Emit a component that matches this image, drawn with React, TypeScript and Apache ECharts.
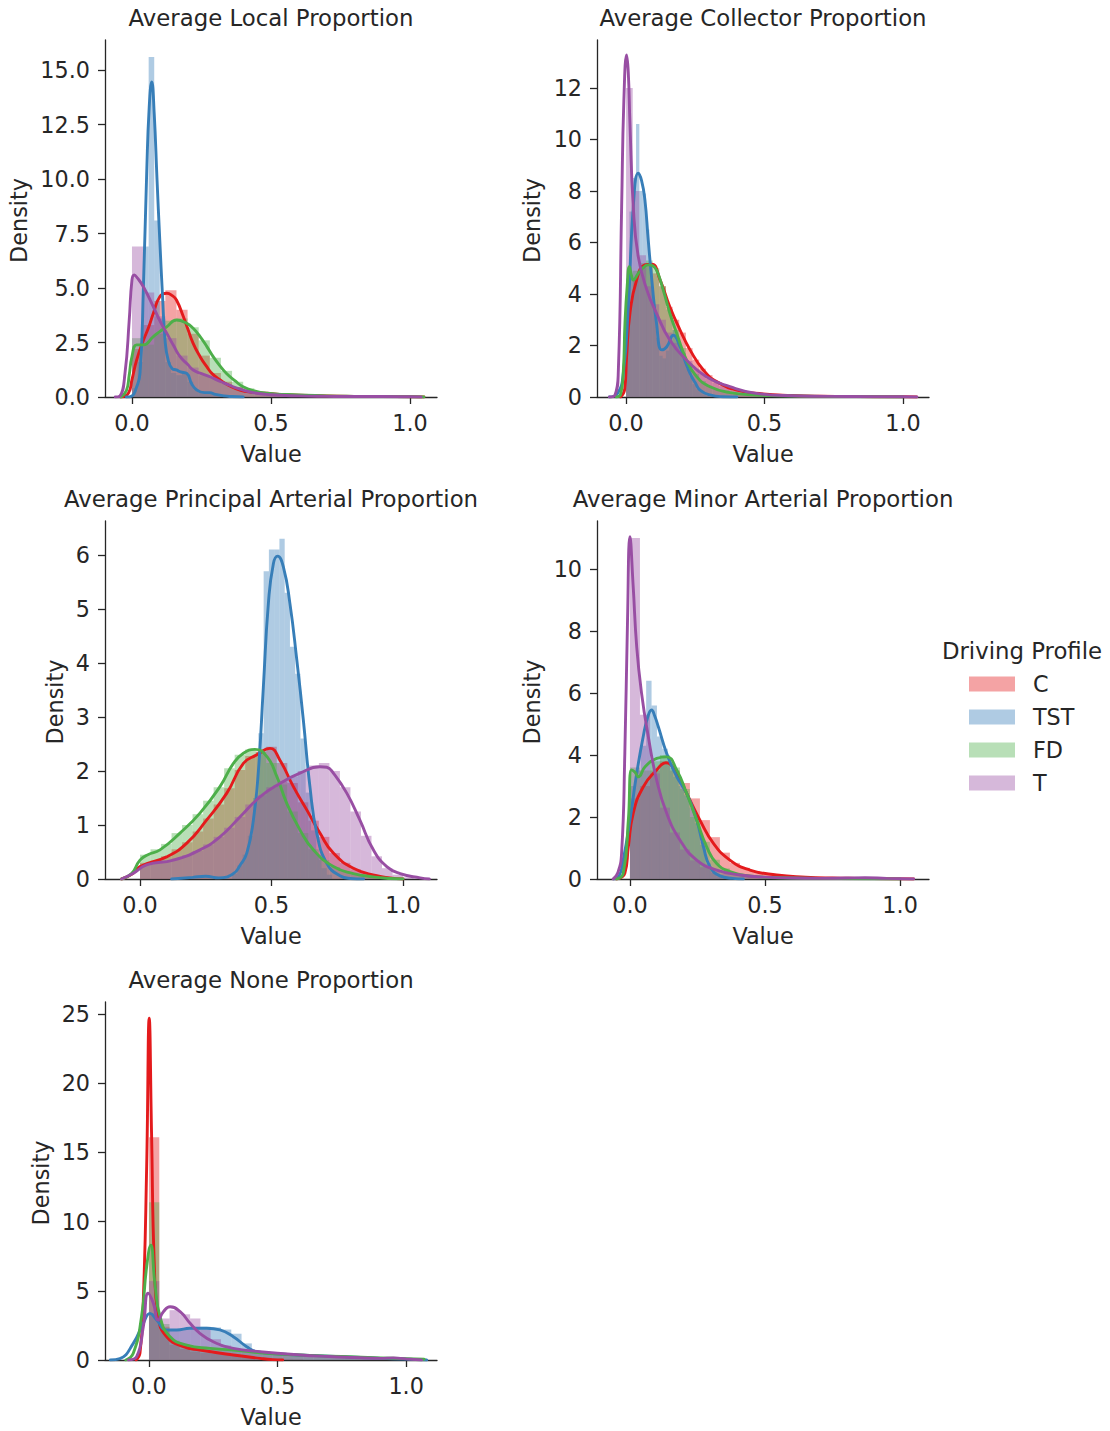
import React, { useEffect, useRef } from "react";
import * as echarts from "echarts";

// Hue groups (Set1 palette): bars at alpha 0.4, KDE lines opaque
const GROUPS = ["C", "TST", "FD", "T"];
const LINE_COLORS = ["#e41a1c", "#377eb8", "#4daf4a", "#984ea3"];
const BAR_FILLS = [
  "rgba(228,26,28,0.4)",
  "rgba(55,126,184,0.4)",
  "rgba(77,175,74,0.4)",
  "rgba(152,78,163,0.4)",
];
const LEGEND_TITLE = "Driving Profile";
const X_TICKS = [0, 0.5, 1];

// ---------- Average Local Proportion ----------
const localTitle = "Average Local Proportion";
const localYTicks = [0, 2.5, 5, 7.5, 10, 12.5, 15];
const localBinStart = [0, 0, 0, 0];
const localBinWidth = [0.04, 0.02, 0.04, 0.04];
const localHist = [
  [2.2, 3.3, 4.4, 4.9, 4.0, 2.9, 1.9, 1.1, 0.7, 0.45, 0.3, 0.2, 0.15, 0.1, 0.08, 0.06, 0.05, 0.04, 0.03, 0.02, 0.02, 0.01, 0.01, 0.01, 0.01],
  [0.4, 1.6, 6.9, 15.6, 8.1, 3.6, 1.6, 1.1, 1.0, 1.1, 0.7, 0.35, 0.25, 0.2, 0.15, 0.12, 0.1, 0.08, 0.05, 0.03],
  [2.7, 2.4, 2.9, 3.5, 3.6, 3.2, 2.6, 1.8, 1.2, 0.7, 0.4, 0.25, 0.18, 0.12, 0.1, 0.08, 0.06, 0.05, 0.04, 0.03, 0.02, 0.02, 0.01, 0.01, 0.01],
  [6.9, 4.8, 3.7, 2.7, 1.9, 1.35, 1.0, 0.85, 0.6, 0.45, 0.3, 0.2, 0.15, 0.1, 0.08, 0.06, 0.05, 0.04, 0.03, 0.03, 0.02, 0.02, 0.02, 0.01, 0.01, 0.01],
];
const localKde = [
  [[-0.04, 0], [-0.013, 0.17], [0, 0.8], [0.017, 1.7], [0.041, 2.6], [0.06, 3.2], [0.077, 3.84], [0.1, 4.6], [0.125, 4.76], [0.145, 4.65], [0.16, 4.45], [0.185, 3.68], [0.2, 3.15], [0.22, 2.46], [0.245, 1.85], [0.269, 1.39], [0.29, 1.05], [0.317, 0.78], [0.35, 0.52], [0.388, 0.32], [0.43, 0.22], [0.485, 0.17], [0.55, 0.11], [0.6, 0.08], [0.7, 0.05], [0.8, 0.03], [0.9, 0.02], [1.0, 0.01], [1.05, 0]],
  [[-0.02, 0], [0, 0.05], [0.015, 0.4], [0.029, 1.1], [0.041, 5.0], [0.053, 10.3], [0.062, 13.3], [0.071, 14.46], [0.08, 13.0], [0.09, 10.0], [0.1, 7.2], [0.11, 4.6], [0.119, 2.6], [0.13, 1.7], [0.145, 1.3], [0.16, 1.24], [0.175, 1.15], [0.197, 1.08], [0.215, 0.6], [0.233, 0.32], [0.26, 0.2], [0.28, 0.2], [0.3, 0.12], [0.33, 0.05], [0.36, 0.02], [0.4, 0]],
  [[-0.04, 0], [-0.02, 0.3], [-0.01, 1.0], [0, 1.85], [0.017, 2.39], [0.041, 2.39], [0.077, 2.77], [0.1, 3.0], [0.125, 3.22], [0.16, 3.53], [0.197, 3.38], [0.22, 3.15], [0.245, 2.77], [0.27, 2.3], [0.292, 1.85], [0.315, 1.45], [0.34, 1.08], [0.37, 0.75], [0.4, 0.47], [0.44, 0.28], [0.485, 0.17], [0.55, 0.12], [0.6, 0.09], [0.7, 0.05], [0.8, 0.03], [0.9, 0.02], [1.0, 0.01], [1.05, 0]],
  [[-0.06, 0], [-0.043, 0.05], [-0.025, 1.1], [-0.01, 3.5], [0, 5.37], [0.008, 5.6], [0.02, 5.45], [0.041, 5.06], [0.077, 4.14], [0.1, 3.5], [0.125, 2.93], [0.15, 2.35], [0.173, 1.85], [0.2, 1.5], [0.22, 1.24], [0.25, 1.07], [0.28, 0.93], [0.32, 0.7], [0.364, 0.47], [0.4, 0.32], [0.449, 0.17], [0.5, 0.1], [0.6, 0.05], [0.7, 0.03], [0.8, 0.02], [0.9, 0.02], [1.0, 0.01], [1.04, 0]],
];

// ---------- Average Collector Proportion ----------
const collectorTitle = "Average Collector Proportion";
const collectorYTicks = [0, 2, 4, 6, 8, 10, 12];
const collectorBinStart = [0, 0, 0, 0];
const collectorBinWidth = [0.024, 0.012, 0.024, 0.024];
const collectorHist = [
  [3.6, 4.6, 5.1, 5.2, 4.8, 4.3, 3.5, 3.0, 2.5, 1.9, 1.45, 1.1, 0.85, 0.62, 0.5, 0.38, 0.28, 0.23, 0.19, 0.15, 0.12, 0.1, 0.08, 0.07, 0.06, 0.05, 0.04, 0.03, 0.03, 0.02, 0.02, 0.02, 0.02, 0.01, 0.01, 0.01, 0.01, 0.01, 0.01, 0.01, 0.01, 0.01],
  [4.0, 7.2, 8.5, 10.6, 8.0, 7.9, 6.5, 5.0, 3.5, 2.3, 1.6, 1.5, 1.8, 2.2, 2.6, 2.2, 1.9, 1.5, 1.1, 0.8, 0.5, 0.3, 0.2, 0.1, 0.05],
  [4.6, 4.9, 5.2, 5.3, 5.0, 4.3, 3.4, 2.6, 1.9, 1.3, 0.9, 0.62, 0.44, 0.32, 0.24, 0.18, 0.14, 0.11, 0.09, 0.07, 0.06, 0.05, 0.04, 0.03, 0.03, 0.02, 0.02, 0.02, 0.01, 0.01, 0.01, 0.01],
  [12.0, 8.0, 5.5, 4.3, 3.6, 3.0, 2.5, 2.1, 1.7, 1.4, 1.1, 0.9, 0.7, 0.55, 0.42, 0.32, 0.25, 0.2, 0.15, 0.12, 0.1, 0.08, 0.06, 0.05, 0.04, 0.03, 0.03, 0.03, 0.02, 0.02, 0.02, 0.01, 0.01, 0.01, 0.01, 0.01, 0.01, 0.01, 0.01, 0.01, 0.01, 0.01],
];
const collectorKde = [
  [[-0.02, 0], [-0.005, 0.3], [0.002, 1.57], [0.014, 3.25], [0.038, 4.54], [0.068, 5.13], [0.093, 5.16], [0.123, 4.54], [0.158, 3.5], [0.195, 2.6], [0.231, 1.83], [0.279, 1.05], [0.327, 0.6], [0.4, 0.27], [0.495, 0.12], [0.6, 0.06], [0.7, 0.03], [0.8, 0.02], [0.9, 0.01], [1.0, 0.01], [1.05, 0]],
  [[-0.06, 0], [-0.03, 0.15], [-0.01, 0.92], [0.008, 3.5], [0.026, 7.39], [0.044, 8.69], [0.056, 8.4], [0.068, 7.65], [0.08, 6.1], [0.093, 4.54], [0.11, 2.86], [0.129, 1.83], [0.147, 1.95], [0.171, 2.4], [0.195, 1.95], [0.213, 1.4], [0.231, 0.92], [0.25, 0.55], [0.267, 0.27], [0.303, 0.08], [0.35, 0.01], [0.4, 0]],
  [[-0.035, 0], [-0.02, 0.1], [-0.01, 1.0], [-0.004, 2.86], [0.004, 4.3], [0.012, 5.06], [0.02, 4.7], [0.026, 4.54], [0.044, 4.8], [0.06, 5.0], [0.08, 5.13], [0.095, 5.1], [0.11, 4.93], [0.134, 4.16], [0.158, 3.25], [0.183, 2.47], [0.218, 1.44], [0.255, 0.79], [0.303, 0.4], [0.375, 0.17], [0.47, 0.08], [0.6, 0.04], [0.75, 0.02], [0.9, 0.01], [1.0, 0]],
  [[-0.06, 0], [-0.04, 0.08], [-0.028, 1.0], [-0.016, 7.39], [-0.008, 11.5], [0.002, 13.28], [0.008, 12.6], [0.014, 10.63], [0.026, 7.39], [0.044, 5.45], [0.075, 4.16], [0.11, 3.25], [0.158, 2.21], [0.218, 1.44], [0.29, 0.79], [0.375, 0.4], [0.47, 0.14], [0.6, 0.05], [0.8, 0.02], [1.0, 0.01], [1.05, 0]],
];

// ---------- Average Principal Arterial Proportion ----------
const principalTitle = "Average Principal Arterial Proportion";
const principalYTicks = [0, 1, 2, 3, 4, 5, 6];
const principalBinStart = [0, 0.35, 0, 0];
const principalBinWidth = [0.04, 0.02, 0.04, 0.04];
const principalHist = [
  [0.3, 0.34, 0.42, 0.55, 0.68, 0.88, 1.12, 1.38, 1.68, 2.02, 2.28, 2.36, 2.45, 2.15, 1.78, 1.42, 1.08, 0.78, 0.48, 0.3, 0.18, 0.11, 0.06, 0.03],
  [0.1, 0.25, 0.45, 0.8, 1.5, 2.7, 5.7, 6.1, 6.1, 6.3, 5.3, 4.3, 3.8, 2.6, 1.6, 0.9, 0.45, 0.2, 0.08],
  [0.45, 0.55, 0.65, 0.85, 1.0, 1.2, 1.45, 1.7, 2.05, 2.3, 2.4, 2.35, 2.15, 1.75, 1.25, 0.85, 0.55, 0.35, 0.22, 0.14, 0.09, 0.06, 0.04, 0.02],
  [0.25, 0.3, 0.33, 0.38, 0.44, 0.52, 0.64, 0.78, 0.95, 1.15, 1.38, 1.55, 1.7, 1.8, 1.9, 2.0, 2.1, 2.15, 2.0, 1.7, 1.25, 0.8, 0.42, 0.2, 0.08, 0.03],
];
const principalKde = [
  [[-0.07, 0], [-0.027, 0.1], [0, 0.23], [0.101, 0.41], [0.177, 0.66], [0.253, 1.09], [0.33, 1.59], [0.393, 2.14], [0.444, 2.3], [0.494, 2.42], [0.532, 2.2], [0.583, 1.71], [0.634, 1.28], [0.684, 0.85], [0.735, 0.48], [0.811, 0.2], [0.9, 0.06], [0.95, 0.02], [1.0, 0]],
  [[0.12, 0], [0.2, 0.03], [0.25, 0.05], [0.3, 0.02], [0.355, 0.1], [0.38, 0.25], [0.406, 0.48], [0.431, 1.09], [0.45, 2.0], [0.469, 3.56], [0.488, 5.1], [0.507, 5.84], [0.523, 5.98], [0.545, 5.78], [0.57, 5.1], [0.596, 4.06], [0.621, 2.94], [0.646, 1.71], [0.672, 0.85], [0.71, 0.29], [0.76, 0.06], [0.8, 0.01], [0.85, 0]],
  [[-0.07, 0], [-0.032, 0.1], [0, 0.35], [0.03, 0.45], [0.076, 0.54], [0.152, 0.85], [0.228, 1.22], [0.304, 1.71], [0.355, 2.14], [0.393, 2.33], [0.437, 2.4], [0.482, 2.27], [0.52, 1.9], [0.558, 1.4], [0.608, 0.91], [0.659, 0.54], [0.735, 0.23], [0.811, 0.1], [0.886, 0.04], [0.95, 0.01], [1.0, 0]],
  [[-0.07, 0], [-0.027, 0.1], [0.025, 0.26], [0.127, 0.35], [0.228, 0.54], [0.304, 0.78], [0.38, 1.15], [0.456, 1.52], [0.532, 1.77], [0.608, 1.96], [0.684, 2.08], [0.71, 2.07], [0.735, 1.96], [0.786, 1.59], [0.836, 1.09], [0.887, 0.54], [0.938, 0.23], [0.989, 0.1], [1.065, 0.02], [1.1, 0]],
];

// ---------- Average Minor Arterial Proportion ----------
const minorTitle = "Average Minor Arterial Proportion";
const minorYTicks = [0, 2, 4, 6, 8, 10];
const minorBinStart = [0, 0, 0, 0];
const minorBinWidth = [0.037, 0.02, 0.037, 0.037];
const minorHist = [
  [2.6, 3.0, 3.5, 3.8, 3.5, 3.1, 2.6, 1.9, 1.35, 0.85, 0.52, 0.36, 0.26, 0.18, 0.13, 0.1, 0.08, 0.06, 0.05, 0.04, 0.03, 0.03, 0.02, 0.02, 0.02, 0.01, 0.01],
  [3.0, 3.5, 4.3, 6.4, 5.6, 4.6, 4.2, 3.8, 3.3, 3.0, 2.7, 2.3, 1.8, 1.1, 0.5, 0.2, 0.08],
  [3.6, 3.5, 3.8, 4.0, 3.6, 2.9, 2.0, 1.2, 0.62, 0.34, 0.2, 0.14, 0.1, 0.07, 0.05, 0.04, 0.03, 0.02, 0.02, 0.01, 0.01, 0.01],
  [11.0, 5.3, 3.4, 2.3, 1.5, 0.95, 0.6, 0.38, 0.25, 0.17, 0.12, 0.08, 0.06, 0.05, 0.04, 0.03, 0.03, 0.02, 0.02, 0.02, 0.02, 0.03, 0.03, 0.02, 0.01, 0.01, 0.01],
];
const minorKde = [
  [[-0.05, 0], [-0.019, 0.18], [-0.006, 1.04], [0.012, 2.12], [0.049, 2.97], [0.099, 3.52], [0.133, 3.75], [0.173, 3.41], [0.21, 2.76], [0.259, 1.9], [0.309, 1.15], [0.37, 0.61], [0.444, 0.29], [0.543, 0.13], [0.65, 0.06], [0.75, 0.03], [0.85, 0.02], [0.95, 0.01], [1.05, 0]],
  [[-0.06, 0], [-0.04, 0.1], [-0.025, 0.61], [0, 1.9], [0.025, 3.41], [0.049, 4.59], [0.065, 5.2], [0.08, 5.45], [0.092, 5.25], [0.105, 4.91], [0.136, 4.05], [0.173, 3.3], [0.21, 2.76], [0.247, 1.9], [0.272, 1.04], [0.296, 0.4], [0.333, 0.1], [0.38, 0.02], [0.42, 0]],
  [[-0.05, 0], [-0.025, 0.18], [-0.006, 1.9], [0.006, 3.52], [0.018, 3.45], [0.031, 3.3], [0.056, 3.62], [0.099, 3.89], [0.136, 3.94], [0.173, 3.52], [0.21, 2.76], [0.247, 1.9], [0.284, 1.04], [0.321, 0.5], [0.37, 0.24], [0.44, 0.1], [0.55, 0.04], [0.7, 0.02], [0.85, 0.01], [1.0, 0]],
  [[-0.062, 0], [-0.045, 0.2], [-0.031, 0.83], [-0.019, 4.05], [-0.009, 8.35], [0, 11.04], [0.012, 9.43], [0.025, 7.49], [0.043, 5.99], [0.068, 4.59], [0.099, 3.19], [0.136, 2.12], [0.185, 1.26], [0.247, 0.61], [0.321, 0.29], [0.407, 0.13], [0.5, 0.06], [0.6, 0.03], [0.7, 0.02], [0.8, 0.03], [0.87, 0.04], [0.95, 0.02], [1.05, 0]],
];

// ---------- Average None Proportion ----------
const noneTitle = "Average None Proportion";
const noneYTicks = [0, 5, 10, 15, 20, 25];
const noneBinStart = [0, 0, 0, 0];
const noneBinWidth = [0.04, 0.04, 0.04, 0.04];
const noneHist = [
  [16.1, 2.4, 1.1, 0.8, 0.6, 0.5, 0.45, 0.4, 0.3, 0.25, 0.2, 0.15, 0.1, 0.08, 0.05],
  [3.4, 2.2, 2.1, 2.2, 2.3, 2.4, 2.35, 2.2, 1.9, 1.2, 0.65, 0.45, 0.4, 0.35, 0.3, 0.28, 0.25, 0.22, 0.2, 0.17, 0.15, 0.12, 0.1, 0.08, 0.06, 0.05],
  [11.4, 2.6, 1.4, 1.1, 0.95, 0.85, 0.8, 0.75, 0.7, 0.65, 0.6, 0.55, 0.5, 0.45, 0.4, 0.37, 0.33, 0.3, 0.27, 0.25, 0.22, 0.2, 0.18, 0.16, 0.14, 0.12],
  [5.7, 3.0, 3.6, 3.3, 3.0, 2.2, 1.5, 1.05, 0.8, 0.65, 0.55, 0.5, 0.45, 0.4, 0.35, 0.32, 0.28, 0.25, 0.22, 0.2, 0.18, 0.15, 0.12, 0.1, 0.08, 0.06],
];
const noneKde = [
  [[-0.05, 0], [-0.035, 0.5], [-0.022, 4.34], [-0.009, 13.97], [0.001, 24.7], [0.01, 16.4], [0.021, 6.74], [0.036, 3.13], [0.069, 1.68], [0.134, 0.96], [0.198, 0.72], [0.328, 0.36], [0.432, 0.12], [0.48, 0.03], [0.52, 0]],
  [[-0.15, 0], [-0.113, 0.1], [-0.061, 1.2], [-0.022, 2.65], [0.004, 3.37], [0.03, 2.89], [0.069, 2.17], [0.108, 2.17], [0.16, 2.29], [0.225, 2.29], [0.276, 2.17], [0.328, 1.68], [0.38, 0.96], [0.419, 0.6], [0.51, 0.43], [0.6, 0.35], [0.7, 0.28], [0.8, 0.2], [0.9, 0.12], [1.0, 0.06], [1.08, 0]],
  [[-0.09, 0], [-0.061, 0.48], [-0.029, 3.13], [-0.009, 6.74], [0.007, 8.3], [0.023, 5.54], [0.043, 3.13], [0.082, 1.68], [0.147, 1.08], [0.237, 0.84], [0.328, 0.72], [0.458, 0.48], [0.588, 0.36], [0.7, 0.28], [0.8, 0.22], [0.9, 0.15], [1.0, 0.1], [1.07, 0.05]],
  [[-0.08, 0], [-0.048, 0.24], [-0.022, 2.41], [-0.003, 4.82], [0.017, 4.1], [0.036, 2.89], [0.056, 3.49], [0.082, 3.85], [0.121, 3.49], [0.16, 2.65], [0.198, 1.93], [0.25, 1.32], [0.328, 0.84], [0.432, 0.6], [0.588, 0.36], [0.7, 0.25], [0.8, 0.18], [0.9, 0.12], [0.95, 0.15], [1.0, 0.08], [1.06, 0]],
];

// Facet layout: plotting area of each panel (pixels) and its axis limits
const PANELS = [
  { title: localTitle, yTicks: localYTicks, yDec: 1, start: localBinStart, width: localBinWidth, hist: localHist, kde: localKde,
    box: { left: 105, top: 40, width: 332, height: 357 }, xMin: -0.097, xMax: 1.097, yMax: 16.38, densityX: 19 },
  { title: collectorTitle, yTicks: collectorYTicks, yDec: 0, start: collectorBinStart, width: collectorBinWidth, hist: collectorHist, kde: collectorKde,
    box: { left: 597, top: 40, width: 332, height: 357 }, xMin: -0.105, xMax: 1.094, yMax: 13.86, densityX: 532 },
  { title: principalTitle, yTicks: principalYTicks, yDec: 0, start: principalBinStart, width: principalBinWidth, hist: principalHist, kde: principalKde,
    box: { left: 105, top: 521, width: 332, height: 358 }, xMin: -0.133, xMax: 1.129, yMax: 6.63, densityX: 55 },
  { title: minorTitle, yTicks: minorYTicks, yDec: 0, start: minorBinStart, width: minorBinWidth, hist: minorHist, kde: minorKde,
    box: { left: 597, top: 521, width: 332, height: 358 }, xMin: -0.122, xMax: 1.107, yMax: 11.55, densityX: 532 },
  { title: noneTitle, yTicks: noneYTicks, yDec: 0, start: noneBinStart, width: noneBinWidth, hist: noneHist, kde: noneKde,
    box: { left: 105, top: 1002, width: 332, height: 358 }, xMin: -0.171, xMax: 1.12, yMax: 25.87, densityX: 41 },
];

const FONT = "DejaVu Sans";
const INK = "#262626";
const LABEL_SIZE = 22.3;
const TITLE_SIZE = 22.8;

function buildOption() {
  const grid: any[] = [];
  const xAxis: any[] = [];
  const yAxis: any[] = [];
  const series: any[] = [];
  const graphic: any[] = [];

  PANELS.forEach((p, pi) => {
    grid.push({ ...p.box });
    const axisCommon = {
      axisLine: { show: true, onZero: false, lineStyle: { color: INK, width: 1.3 } },
      splitLine: { show: false },
    };
    xAxis.push({
      type: "value",
      gridIndex: pi,
      min: p.xMin,
      max: p.xMax,
      ...axisCommon,
      axisTick: { show: true, length: 7, lineStyle: { color: INK, width: 1.3 }, customValues: X_TICKS },
      axisLabel: {
        customValues: X_TICKS,
        formatter: (v: number) => v.toFixed(1),
        fontFamily: FONT,
        fontSize: LABEL_SIZE,
        color: INK,
        margin: 15,
      },
    });
    yAxis.push({
      type: "value",
      gridIndex: pi,
      min: 0,
      max: p.yMax,
      ...axisCommon,
      axisTick: { show: true, length: 7, lineStyle: { color: INK, width: 1.3 }, customValues: p.yTicks },
      axisLabel: {
        customValues: p.yTicks,
        formatter: (v: number) => v.toFixed(p.yDec),
        fontFamily: FONT,
        fontSize: LABEL_SIZE,
        color: INK,
        margin: 15,
      },
    });

    GROUPS.forEach((g, gi) => {
      const s0 = p.start[gi];
      const w = p.width[gi];
      const bins = p.hist[gi].map((h: number, i: number) => [s0 + i * w, s0 + (i + 1) * w, h]);
      series.push({
        type: "custom",
        name: g,
        xAxisIndex: pi,
        yAxisIndex: pi,
        data: bins,
        encode: { x: [0, 1], y: 2 },
        clip: true,
        renderItem: (_params: any, api: any) => {
          const a = api.coord([api.value(0), api.value(2)]);
          const b = api.coord([api.value(1), 0]);
          return {
            type: "rect",
            shape: { x: a[0], y: a[1], width: b[0] - a[0], height: b[1] - a[1] },
            style: { fill: BAR_FILLS[gi], stroke: null },
          };
        },
      });
      series.push({
        type: "line",
        name: g,
        xAxisIndex: pi,
        yAxisIndex: pi,
        data: p.kde[gi],
        showSymbol: false,
        smooth: 0.5,
        clip: true,
        lineStyle: { color: LINE_COLORS[gi], width: 2.9, cap: "round", join: "round" },
        itemStyle: { color: LINE_COLORS[gi] },
      });
    });

    const cx = p.box.left + p.box.width / 2;
    graphic.push({
      type: "text",
      x: cx,
      y: p.box.top - 22,
      style: { text: p.title, font: `${TITLE_SIZE}px "${FONT}"`, fill: INK, align: "center", verticalAlign: "middle" },
    });
    graphic.push({
      type: "text",
      x: cx,
      y: p.box.top + p.box.height + 57,
      style: { text: "Value", font: `${LABEL_SIZE}px "${FONT}"`, fill: INK, align: "center", verticalAlign: "middle" },
    });
    graphic.push({
      type: "text",
      x: p.densityX,
      y: p.box.top + p.box.height / 2 + 2,
      rotation: Math.PI / 2,
      style: { text: "Density", font: `${LABEL_SIZE}px "${FONT}"`, fill: INK, align: "center", verticalAlign: "middle" },
    });
  });

  // Legend for the hue groups
  graphic.push({
    type: "text",
    x: 1022,
    y: 651,
    style: { text: LEGEND_TITLE, font: `${TITLE_SIZE}px "${FONT}"`, fill: INK, align: "center", verticalAlign: "middle" },
  });
  GROUPS.forEach((g, gi) => {
    const cy = 684 + gi * 33;
    graphic.push({
      type: "rect",
      shape: { x: 969, y: cy - 7.5, width: 46, height: 15 },
      style: { fill: BAR_FILLS[gi] },
    });
    graphic.push({
      type: "text",
      x: 1033,
      y: cy,
      style: { text: g, font: `${LABEL_SIZE}px "${FONT}"`, fill: INK, align: "left", verticalAlign: "middle" },
    });
  });

  return {
    animation: false,
    backgroundColor: "#ffffff",
    grid,
    xAxis,
    yAxis,
    series,
    graphic,
  };
}

export default function App() {
  const ref = useRef<HTMLDivElement>(null);
  useEffect(() => {
    if (!ref.current) return;
    const chart = echarts.init(ref.current, undefined, { renderer: "svg" });
    chart.setOption(buildOption() as any);
    return () => chart.dispose();
  }, []);
  return (
    <div
      ref={ref}
      style={{ position: "absolute", left: 0, top: 0, width: 1110, height: 1431, background: "#fff" }}
    />
  );
}
